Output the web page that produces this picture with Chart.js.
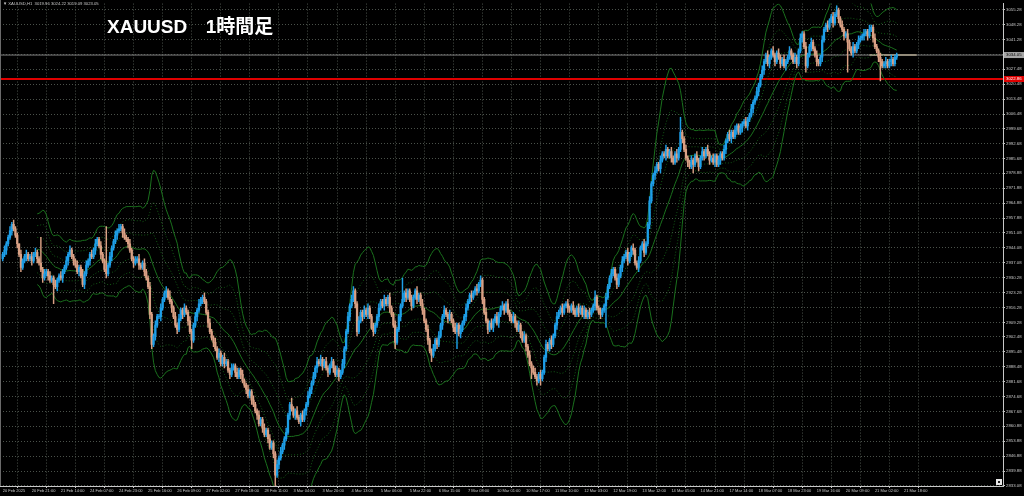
<!DOCTYPE html>
<html>
<head>
<meta charset="utf-8">
<script src="https://cdn.jsdelivr.net/npm/chart.js@4.4.1/dist/chart.umd.min.js"></script>
<style>
  html, body { margin: 0; padding: 0; background: #000; }
  #wrap { position: relative; width: 1024px; height: 496px; overflow: hidden; }
  #info { position: absolute; left: 3px; top: 1px; font: 4.2px 'Liberation Sans', sans-serif; color: #c8c8c8; white-space: pre; }
  #title { position: absolute; left: 107px; top: 17px; font: bold 19px 'Liberation Sans', 'Noto Sans CJK JP', sans-serif; line-height: 19px; color: #fff; white-space: pre; word-spacing: 4px; }
</style>
</head>
<body>
<div id="wrap">
  <canvas id="price-chart" width="1024" height="496"></canvas>
  <div id="info">▼ XAUUSD,H1  3019.96 3024.22 3019.09 3023.05</div>
  <div id="title">XAUUSD  1時間足</div>
</div>
<script>
// one label every 16 hourly bars, starting at bar 0
const timeLabels = ['20 Feb 2025', '20 Feb 21:00', '21 Feb 14:00', '24 Feb 07:00', '24 Feb 23:00', '25 Feb 16:00',
  '26 Feb 09:00', '27 Feb 02:00', '27 Feb 18:00', '28 Feb 11:00', '3 Mar 04:00', '3 Mar 20:00', '4 Mar 13:00',
  '5 Mar 06:00', '5 Mar 22:00', '6 Mar 15:00', '7 Mar 08:00', '10 Mar 01:00', '10 Mar 17:00', '11 Mar 10:00',
  '12 Mar 03:00', '12 Mar 19:00', '13 Mar 12:00', '14 Mar 05:00', '14 Mar 21:00', '17 Mar 14:00', '18 Mar 07:00',
  '18 Mar 23:00', '19 Mar 16:00', '20 Mar 09:00', '21 Mar 02:00', '21 Mar 18:00'];
const labelStep = 16;

const priceTicks = [3055.28, 3048.28, 3041.28, 3034.28, 3027.48, 3020.48, 3013.48, 3006.48, 2999.68, 2992.68,
  2985.68, 2978.88, 2971.88, 2964.88, 2957.88, 2951.08, 2944.08, 2937.08, 2930.28, 2923.28, 2916.28, 2909.28,
  2902.48, 2895.48, 2888.48, 2881.68, 2874.68, 2867.68, 2860.88, 2853.88, 2846.88, 2839.88, 2833.08];

// H1 closes
const firstOpen = 2939;
const closes = [
  2941, 2943, 2946, 2949, 2952, 2955, 2953, 2950, 2946, 2941,
  2935, 2938, 2940, 2941, 2939, 2940,
  2938, 2941, 2942, 2939, 2937, 2934,
  2930, 2932, 2933, 2931, 2929, 2930,
  2927, 2926, 2929, 2931, 2930, 2933,
  2935, 2938, 2941, 2943, 2940,
  2938, 2936, 2933, 2935, 2931, 2927,
  2932, 2936, 2938, 2941, 2940, 2943,
  2946, 2948, 2945, 2941, 2938,
  2934, 2932, 2936, 2940, 2944, 2947,
  2950, 2952, 2953, 2954, 2951, 2949,
  2948, 2946, 2943, 2939, 2937, 2938,
  2939, 2936, 2935, 2937, 2933, 2930,
  2926, 2913, 2899, 2903, 2908, 2912,
  2912, 2916, 2920, 2923, 2924, 2921,
  2919, 2916, 2912, 2908, 2906, 2911,
  2915, 2913, 2916, 2914, 2910, 2905,
  2901, 2908, 2912, 2915, 2918, 2920,
  2921, 2919, 2914, 2909, 2905,
  2902, 2900, 2897, 2893, 2895, 2890,
  2893, 2890, 2891, 2887, 2885, 2888,
  2889, 2886, 2884, 2887, 2885, 2882,
  2880, 2878, 2875, 2877, 2873, 2871,
  2868, 2866, 2862, 2864, 2860, 2857,
  2859, 2855, 2851, 2853, 2848, 2838,
  2843, 2846, 2849, 2852, 2855, 2858,
  2866, 2871, 2869, 2866, 2868, 2865,
  2863, 2866, 2864, 2868, 2871, 2875,
  2878, 2881, 2884, 2888, 2891, 2890,
  2892, 2889, 2891, 2888, 2886, 2889,
  2891, 2888, 2885, 2887, 2884, 2886,
  2890, 2897, 2905, 2912, 2917, 2920,
  2924, 2918, 2905, 2910, 2914, 2912,
  2915, 2913, 2916, 2912, 2907, 2905,
  2908, 2912, 2916, 2919, 2917, 2920,
  2918, 2921, 2916, 2913, 2908, 2900,
  2906, 2912, 2917, 2920, 2923, 2921,
  2924, 2920, 2917, 2921, 2924, 2920,
  2922, 2918, 2915, 2910, 2906, 2901,
  2896, 2894, 2897, 2901, 2899, 2903,
  2908, 2912, 2915, 2913, 2911, 2913,
  2910, 2907, 2905, 2908, 2904, 2906,
  2909, 2912, 2916, 2919, 2922, 2921,
  2923, 2925, 2924, 2927, 2929,
  2920, 2914, 2910, 2906, 2909, 2907,
  2910, 2912, 2909, 2913, 2916, 2917,
  2915, 2918, 2914, 2912, 2910, 2912,
  2909, 2906, 2908, 2904, 2901, 2903,
  2898, 2894, 2890, 2888, 2886, 2884,
  2882, 2885, 2883, 2886, 2893, 2899,
  2897, 2901, 2899, 2903, 2908, 2912,
  2914, 2916, 2914, 2917, 2918, 2916,
  2915, 2917, 2915, 2913, 2916, 2914,
  2916, 2913, 2915, 2912, 2914, 2913,
  2915, 2917, 2921, 2916, 2914, 2913,
  2915, 2917, 2921, 2926, 2930, 2932,
  2934, 2930, 2927, 2931, 2935, 2938,
  2940, 2942, 2938, 2941, 2944, 2943,
  2937, 2935, 2938, 2944, 2946, 2942,
  2946, 2955, 2966, 2974, 2978, 2980,
  2983, 2981, 2985, 2988, 2987, 2990,
  2987, 2989, 2986, 2984, 2988, 2986,
  2990, 2998, 2995, 2990, 2986, 2984,
  2982, 2985, 2983, 2987, 2985, 2982,
  2986, 2989, 2987, 2990, 2988, 2985,
  2986, 2984, 2987, 2983, 2985, 2988,
  2986, 2990, 2994, 2997, 2995, 2998,
  2996, 2999, 3001, 2998, 3000, 3002,
  3003, 3001, 3004, 3006, 3009, 3012,
  3014, 3017, 3020, 3024, 3027, 3031,
  3034, 3030, 3033, 3036, 3034, 3031,
  3035, 3033, 3030, 3032, 3029, 3031,
  3033, 3036, 3034, 3031, 3033, 3030,
  3036, 3042, 3044, 3038, 3029,
  3034, 3038, 3040, 3037, 3034, 3031,
  3030, 3033, 3041, 3046, 3048, 3047,
  3050, 3052, 3049, 3053, 3055, 3051,
  3048, 3046, 3043, 3044, 3040, 3037,
  3035, 3038, 3036, 3039, 3041, 3042,
  3043, 3044, 3045, 3043, 3046, 3047,
  3042, 3038, 3036, 3033, 3031, 3029,
  3030, 3031, 3029, 3031, 3032, 3030, 3033, 3034
];

// wick lengths above / below the body, in dollars
const upWicks = [
  1,2,1,1,2, 1,2,1,1,0, 2,1,1,2,1, 1,2,1,2,1, 1,12,1,2,1,
  1,2,1,1,2, 1,1,2,1,1, 2,1,2,1,1, 1,2,1,1,3, 1,2,1,1,2,
  1,2,1,1,2, 1,1,20,1,2, 1,1,2,1,2, 1,1,2,1,1, 2,1,1,2,1,
  2,1,1,2,1, 1,2,1,1,2, 1,1,2,1,1, 2,1,3,1,1, 2,1,2,1,1,
  2,1,1,2,1, 1,2,1,2,1, 1,2,1,1,2, 1,1,2,1,2, 1,1,2,1,1,
  1,2,1,1,2, 1,1,2,1,1, 2,1,1,2,1, 1,2,1,1,2, 1,1,2,1,1,
  1,2,1,2,1, 1,2,1,1,3, 1,1,2,1,1, 2,1,1,2,1, 1,2,1,2,1,
  2,1,1,2,1, 1,2,1,1,2, 1,1,2,1,1, 2,1,2,2,1, 1,2,1,1,2,
  1,2,1,1,2, 1,1,2,1,1, 2,1,1,2,1, 1,2,1,1,1, 10,1,2,1,1,
  2,1,1,2,1, 1,2,1,1,2, 1,1,2,1,1, 2,1,1,2,1, 1,2,1,1,2,
  1,1,2,1,1, 2,1,1,2,1, 1,2,1,2,1, 1,2,1,1,2, 1,1,2,1,1,
  2,1,1,2,1, 1,2,1,1,2, 1,1,2,1,1, 2,1,1,2,1, 1,2,1,1,2,
  1,1,2,1,1, 2,1,1,2,1, 1,2,1,1,2, 1,1,2,1,1, 2,1,1,2,1,
  1,3,1,1,2, 1,1,2,1,1, 2,1,1,2,1, 1,2,1,1,2, 1,1,2,1,1,
  2,1,1,2,1, 1,2,1,1,2, 1,1,2,1,1, 2,1,1,2,1, 1,2,1,7,1,
  1,2,1,1,2, 1,1,2,1,1, 2,1,1,2,1, 1,2,1,1,2, 1,1,2,1,1,
  2,1,1,2,1, 1,2,1,1,2, 1,1,2,1,1, 2,1,1,2,1, 1,2,1,1,2,
  1,1,2,1,1, 2,1,1,2,1, 1,2,1,1,2, 1,1,2,1,1, 2,1,1,2,1,
  1,2,1,1,2, 1,1,2,1,2, 1,1,2,1,1, 2,1,1,2,1, 1,2,1,1,2,
  1,1,2,1,1, 2,1,1,2,1, 1,2,1,1,2, 1,1,1
];
const downWicks = [
  1,1,2,1,1, 2,1,1,2,1, 2,1,1,2,1, 1,2,1,1,2, 1,1,2,1,1,
  2,1,1,9,1, 2,1,1,2,1, 1,2,1,1,2, 1,1,2,1,1, 2,1,1,2,1,
  1,2,1,1,2, 1,1,2,1,1, 2,1,1,2,1, 1,2,1,1,2, 1,1,2,1,1,
  2,1,1,2,1, 1,2,2,1,2, 1,1,2,1,1, 2,1,1,2,1, 1,2,1,1,2,
  1,1,2,1,4, 1,1,2,1,1, 2,1,1,2,1, 1,2,1,1,2, 1,1,2,1,1,
  2,1,1,2,1, 1,2,1,1,2, 1,1,2,1,1, 2,1,1,2,1, 1,2,1,1,2,
  5,1,2,1,1, 2,1,1,2,1, 1,2,1,1,2, 1,1,2,1,1, 2,1,1,2,1,
  1,2,1,1,2, 1,1,2,1,1, 2,1,1,2,1, 1,2,1,1,2, 2,1,1,2,1,
  1,2,1,1,2, 1,1,2,1,1, 2,1,1,2,1, 1,3,1,1,2, 1,1,2,1,1,
  2,1,1,2,1, 1,2,1,1,2, 1,3,1,1,2, 1,1,2,1,1, 2,1,1,2,1,
  8,1,2,1,1, 2,1,1,2,1, 1,2,1,1,2, 1,1,2,1,1, 2,1,1,2,1,
  1,2,1,1,2, 1,1,2,1,1, 2,1,1,2,1, 1,5,1,1,2, 1,3,1,1,2,
  1,1,2,1,1, 2,1,1,2,1, 1,2,1,1,2, 1,1,2,1,1, 2,1,1,2,1,
  1,2,1,1,2, 1,1,10,1,1, 2,1,1,2,1, 1,2,1,1,2, 1,1,2,1,1,
  2,1,1,2,1, 1,2,1,1,2, 1,1,2,1,1, 2,1,1,2,1, 1,2,1,1,2,
  1,1,2,1,1, 4,1,1,2,1, 1,2,1,1,2, 1,1,2,1,1, 2,1,1,2,1,
  1,2,1,1,2, 1,1,2,1,1, 2,1,1,2,1, 1,2,1,1,2, 1,1,2,1,1,
  2,1,1,2,1, 1,2,1,1,2, 1,1,2,1,1, 2,1,3,1,1, 2,1,1,2,1,
  1,2,1,1,2, 1,1,2,1,1, 2,1,1,2,1, 14,1,1,2,1, 1,2,1,1,2,
  1,2,1,1,2, 1,1,2,9,1, 1,2,1,1,2, 1,1,1
];

const redLevel = 3022.86;  // horizontal line
const bidLevel = 3034.05;  // bid line
const markLevel = 3034.05; // short line at the right end
const markFrom = 477;
const markTo = 503;
const bandPeriod = 20;

const bullColor = '#1e9fe8';
const bearColor = '#d9a084';
const gridColor = '#4a514a';
const axisColor = '#c8c8c8';

const opens = closes.map((c, i) => i === 0 ? firstOpen : closes[i - 1]);
const highs = closes.map((c, i) => Math.max(opens[i], c) + (upWicks[i] || 0));
const lows = closes.map((c, i) => Math.min(opens[i], c) - (downWicks[i] || 0));
const candleColors = closes.map((c, i) => c >= opens[i] ? bullColor : bearColor);

// bollinger bands on the closes
const mids = [];
const devs = [];
for (let i = 0; i < closes.length; i++) {
  if (i < bandPeriod - 1) { mids.push(null); devs.push(null); continue; }
  const win = closes.slice(i - bandPeriod + 1, i + 1);
  const m = win.reduce((a, b) => a + b, 0) / bandPeriod;
  const v = win.reduce((a, b) => a + (b - m) * (b - m), 0) / bandPeriod;
  mids.push(m);
  devs.push(Math.sqrt(v));
}
function bandLine(k, dotted) {
  const pts = [];
  closes.forEach((c, i) => { if (mids[i] !== null) pts.push({ x: i, y: mids[i] + k * devs[i] }); });
  return {
    type: 'line', data: pts, borderColor: dotted ? '#135a16' : '#1a701d', borderWidth: 1,
    borderDash: dotted ? [1, 2] : [], pointRadius: 0, tension: 0, order: 2
  };
}
function flatLine(level, from, to, color, width) {
  return {
    type: 'line', data: [{ x: from, y: level }, { x: to, y: level }], borderColor: color,
    borderWidth: width, pointRadius: 0, order: 3
  };
}

const priceMarks = {
  id: 'priceMarks',
  afterDraw(chart) {
    const { ctx, chartArea } = chart;
    const y = chart.scales.y;
    function tag(level, bg, fg) {
      const py = y.getPixelForValue(level);
      ctx.fillStyle = bg;
      ctx.fillRect(chartArea.right + 1, py - 3, 20, 6);
      ctx.fillStyle = fg;
      ctx.font = '4.3px "Liberation Sans"';
      ctx.textAlign = 'left';
      ctx.textBaseline = 'middle';
      ctx.fillText(level.toFixed(2), chartArea.right + 3, py);
    }
    ctx.save();
    tag(bidLevel, '#a6a6a6', '#000');
    tag(redLevel, '#e00000', '#fff');
    // left frame and the chart-shift marker
    ctx.fillStyle = '#6a6a6a';
    ctx.fillRect(0, 0, 1, chartArea.bottom);
    ctx.fillStyle = '#e8e8e8';
    ctx.fillRect(chartArea.right - 7, chartArea.bottom - 7, 6, 6);
    ctx.fillStyle = '#202020';
    ctx.fillRect(chartArea.right - 5, chartArea.bottom - 5, 2, 2);
    ctx.restore();
  }
};

var ctx = document.getElementById('price-chart').getContext('2d');
new Chart(ctx, {
  type: 'bar',
  data: {
    datasets: [
      {
        label: 'body',
        data: closes.map((c, i) => ({ x: i, y: [opens[i], c] })),
        backgroundColor: candleColors,
        barThickness: 1.6,
        grouped: false,
        order: 0
      },
      {
        label: 'wick',
        data: closes.map((c, i) => ({ x: i, y: [lows[i], highs[i]] })),
        backgroundColor: candleColors,
        barThickness: 0.8,
        grouped: false,
        order: 1
      },
      bandLine(3, false), bandLine(2, true), bandLine(1, true), bandLine(0, false),
      bandLine(-1, true), bandLine(-2, true), bandLine(-3, false),
      flatLine(bidLevel, -5, 560, '#7f7f7f', 1),
      flatLine(markLevel, markFrom, markTo, '#a89876', 2),
      flatLine(redLevel, -5, 560, '#e00000', 2)
    ]
  },
  options: {
    responsive: false,
    animation: false,
    events: [],
    layout: { padding: 0 },
    plugins: { legend: { display: false }, tooltip: { enabled: false } },
    scales: {
      x: {
        type: 'linear', min: -1.5, max: 550.5, offset: false,
        afterBuildTicks: s => { s.ticks = timeLabels.map((t, i) => ({ value: i * labelStep })); },
        afterFit: s => { s.height = 10; },
        ticks: {
          autoSkip: false, maxRotation: 0, align: 'start', padding: 0, color: axisColor,
          font: { size: 4, family: 'Liberation Sans' },
          callback: (v, i) => timeLabels[i]
        },
        grid: { color: gridColor, tickColor: axisColor, tickLength: 2 },
        border: { color: axisColor, width: 1, dash: [1, 2] }
      },
      y: {
        position: 'right', min: 2832.95, max: 3058.06,
        afterBuildTicks: s => { s.ticks = priceTicks.map(v => ({ value: v })); },
        afterFit: s => { s.width = 21; },
        ticks: {
          autoSkip: false, padding: 1, color: axisColor,
          font: { size: 4.3, family: 'Liberation Sans' },
          callback: v => v.toFixed(2)
        },
        grid: { color: gridColor, tickColor: axisColor, tickLength: 2 },
        border: { color: axisColor, width: 1, dash: [1, 2] }
      }
    }
  },
  plugins: [priceMarks]
});
</script>
</body>
</html>
